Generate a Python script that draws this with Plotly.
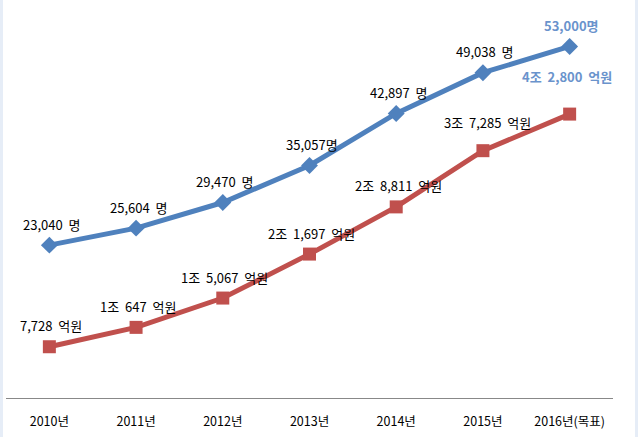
import plotly.graph_objects as go

categories = ["2010년", "2011년", "2012년", "2013년", "2014년", "2015년", "2016년(목표)"]
people = [23040, 25604, 29470, 35057, 42897, 49038, 53000]
amount = [7728, 10647, 15067, 21697, 28811, 37285, 42800]  # 억원
people_labels = ["23,040 명", "25,604 명", "29,470 명", "35,057명", "42,897 명", "49,038 명", "53,000명"]
amount_labels = ["7,728 억원", "1조 647 억원", "1조 5,067 억원", "2조 1,697 억원",
                 "2조 8,811 억원", "3조 7,285 억원", "4조 2,800 억원"]

BLUE = "#4F81BD"
RED = "#C0504D"
HILITE = "#6A93CC"
FONT = "Noto Sans CJK KR"

fig = go.Figure()
fig.add_trace(go.Scatter(x=categories, y=people, mode="lines+markers",
                         line=dict(color=BLUE, width=5),
                         marker=dict(symbol="diamond", size=13, color=BLUE),
                         hoverinfo="skip"))
fig.add_trace(go.Scatter(x=categories, y=amount, mode="lines+markers",
                         line=dict(color=RED, width=5),
                         marker=dict(symbol="square", size=13, color=RED),
                         hoverinfo="skip"))


def spaced(s):
    return s.replace(" ", "\u00a0 ")


n = len(categories)
for i in range(n):
    last = i == n - 1
    txt = spaced(people_labels[i])
    fig.add_annotation(x=categories[i], y=people[i],
                       text=("<b>" + txt + "</b>") if last else txt,
                       showarrow=False, xshift=2, yshift=21,
                       font=dict(family=FONT, size=13,
                                 color=HILITE if last else "black"))
    if last:
        fig.add_annotation(x=categories[i], y=amount[i],
                           text="<b>" + spaced(amount_labels[i]) + "</b>",
                           showarrow=False, xshift=-3, yshift=38,
                           font=dict(family=FONT, size=13, color=HILITE))
    else:
        xs = 5 if i == 5 else 2
        ys = 28 if i == 5 else 21
        fig.add_annotation(x=categories[i], y=amount[i], text=spaced(amount_labels[i]),
                           showarrow=False, xshift=xs, yshift=ys,
                           font=dict(family=FONT, size=13, color="black"))

fig.update_layout(
    width=638, height=437,
    margin=dict(l=6, r=25, t=0, b=39),
    paper_bgcolor="white", plot_bgcolor="white",
    showlegend=False,
    xaxis=dict(type="category", range=[-0.5, 6.5], showgrid=False, zeroline=False,
               showline=True, linecolor="#888888", linewidth=1.2,
               ticks="", ticklabelstandoff=12,
               tickfont=dict(family=FONT, size=12.5, color="black"), fixedrange=True),
    yaxis=dict(range=[0, 60000], visible=False, fixedrange=True),
    shapes=[
        dict(type="rect", xref="paper", yref="paper", x0=-6/607, x1=-3/607, y0=-39/398, y1=1,
             fillcolor="#E6EDF7", line=dict(width=0), layer="above"),
        dict(type="rect", xref="paper", yref="paper", x0=(635-6)/607, x1=(638-6)/607, y0=-39/398, y1=1,
             fillcolor="#E6EDF7", line=dict(width=0), layer="above"),
    ],
)

fig.write_html("out.html", config={"displayModeBar": False},
               post_script="document.body.style.margin='0';document.body.style.overflow='hidden';")
